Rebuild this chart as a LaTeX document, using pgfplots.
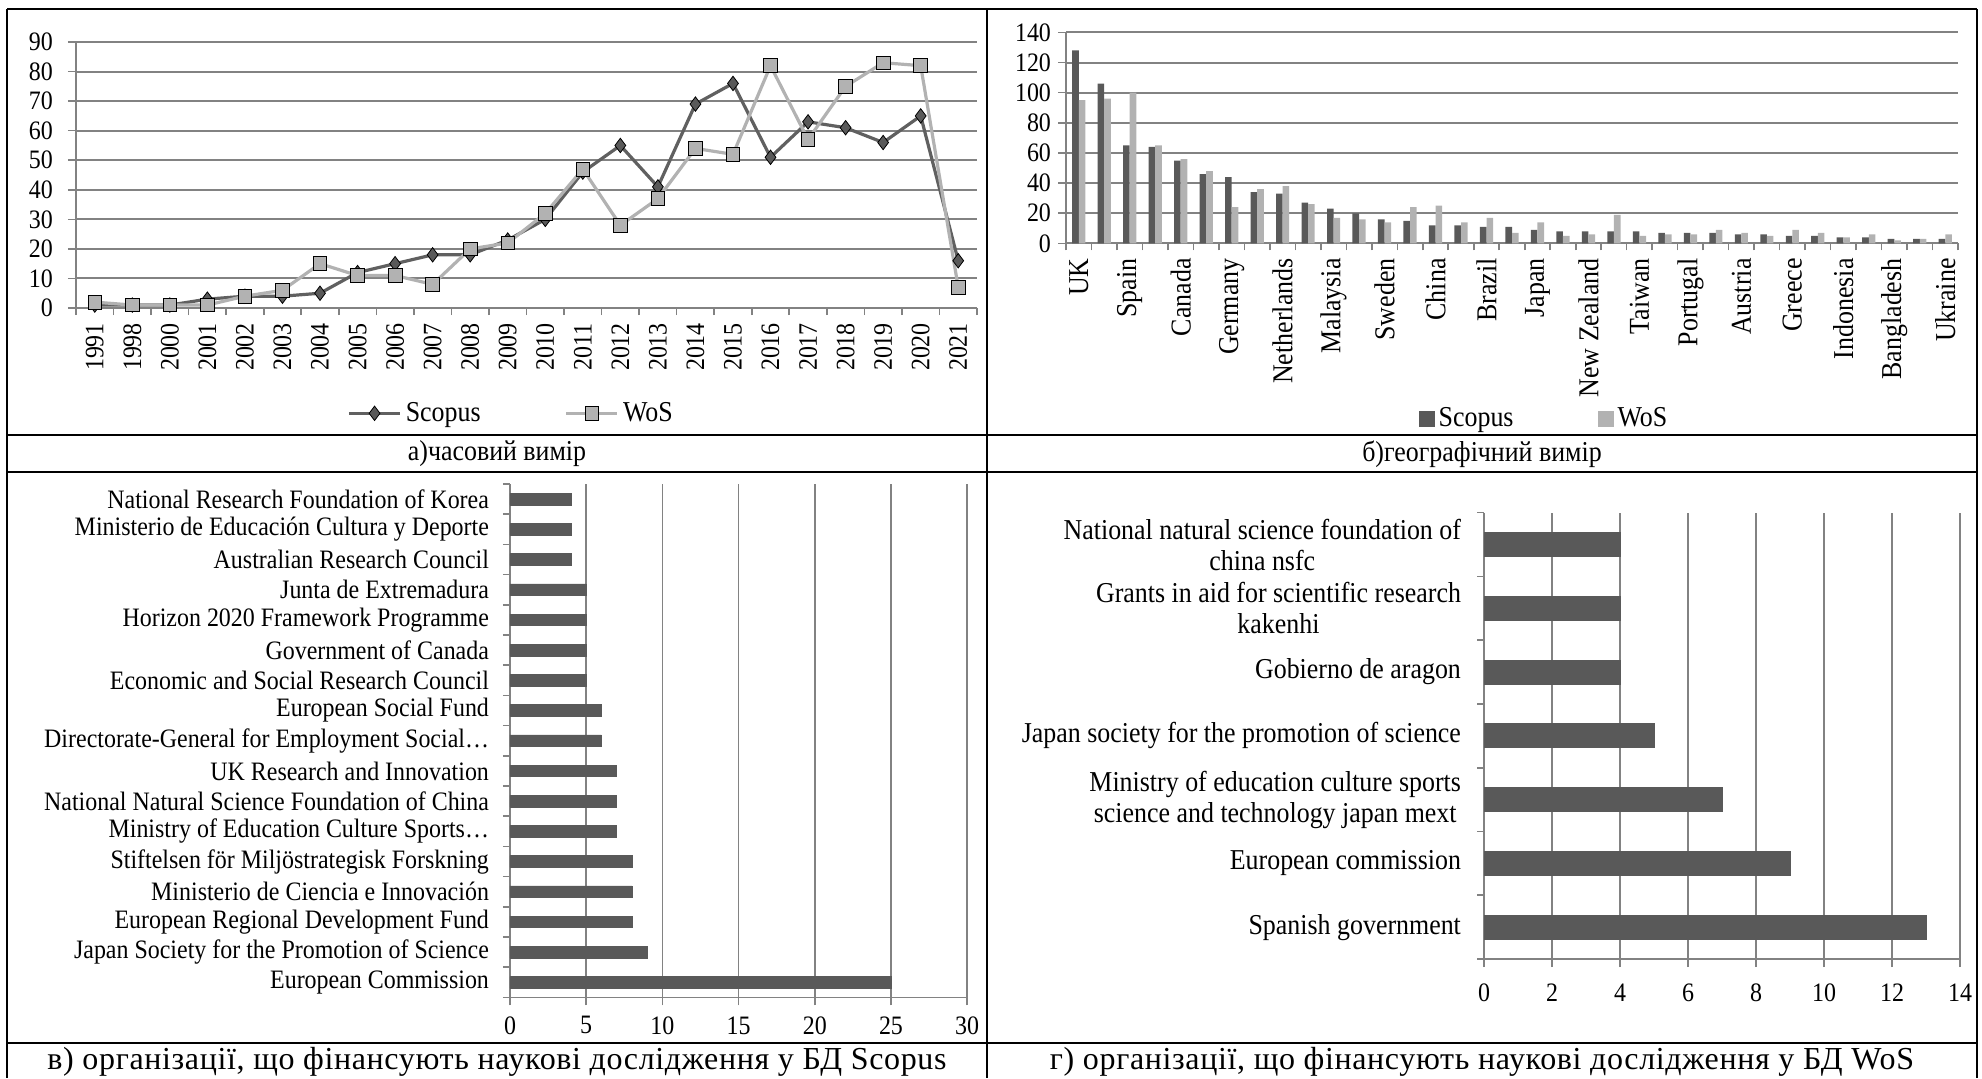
\documentclass[border=0pt]{standalone}
\usepackage{fontspec}
\setmainfont{Liberation Serif}[FakeStretch=0.9]
\newfontfamily\capfont{Liberation Serif}[LetterSpace=2]
\usepackage{pgfplots}
\pgfplotsset{compat=1.18}

\definecolor{scop}{RGB}{89,89,89}
\definecolor{scopline}{RGB}{96,96,96}
\definecolor{wos}{RGB}{178,178,178}
\definecolor{gridc}{RGB}{130,130,130}

\newcommand{\tf}{\fontsize{13.3}{15}\selectfont}
\newcommand{\lf}{\fontsize{14.4}{15.5}\selectfont}

\pgfplotsset{
  base/.style={
    scale only axis, anchor=south west,
    /pgf/number format/assume math mode=true,
    tick label style={font=\tf},
    axis lines*=left,
    axis line style={gridc, line width=0.8pt},
    tick align=outside,
    major tick length=4pt, minor tick length=3.5pt,
    tick style={gridc, line width=0.8pt},
  },
}

\begin{document}
\begin{tikzpicture}
\path[use as bounding box] (0,0) rectangle (991pt,-539pt);

% a) timeline
\begin{axis}[base,
  at={(38pt,-154pt)}, width=450.5pt, height=133pt,
  xmin=-0.5, xmax=23.5, ymin=0, ymax=90, ytick={0,10,...,90},
  yticklabel style={xshift=-4pt},
  xtick={0,...,23},
  xticklabels={1991,1998,2000,2001,2002,2003,2004,2005,2006,2007,2008,2009,2010,2011,2012,2013,2014,2015,2016,2017,2018,2019,2020,2021},
  xticklabel style={rotate=90, anchor=east},
  major x tick style={draw=none},
  minor xtick={-0.5,0.5,...,23.5},
  ymajorgrids, grid style={gridc, line width=1pt},
  legend style={at={(0.484,-0.396)}, anchor=center, draw=none, legend columns=2,
    font=\lf, /tikz/every even column/.append style={column sep=40pt}},
  legend image code/.code={\draw[mark repeat=2,mark phase=2,#1] plot coordinates {(0cm,0cm) (0.45cm,0cm) (0.9cm,0cm)};},
]
\addplot[scopline, line width=1.6pt, mark=diamond*, mark size=3.6pt,
  mark options={fill=scop, draw=black, line width=0.4pt}] coordinates {
  (0,1)(1,1)(2,1)(3,3)(4,4)(5,4)(6,5)(7,12)(8,15)(9,18)(10,18)(11,23)
  (12,30)(13,46)(14,55)(15,41)(16,69)(17,76)(18,51)(19,63)(20,61)(21,56)(22,65)(23,16)};
\addlegendentry{Scopus}
\addplot[wos, line width=1.6pt, mark=square*, mark size=3.4pt,
  mark options={fill=wos, draw=black, line width=0.4pt}] coordinates {
  (0,2)(1,1)(2,1)(3,1)(4,4)(5,6)(6,15)(7,11)(8,11)(9,8)(10,20)(11,22)
  (12,32)(13,47)(14,28)(15,37)(16,54)(17,52)(18,82)(19,57)(20,75)(21,83)(22,82)(23,7)};
\addlegendentry{WoS}
\end{axis}

% b) geography
\begin{axis}[base,
  at={(533pt,-121.7pt)}, width=446pt, height=105.5pt,
  ybar=0pt, bar width=3.3pt,
  xmin=0.5, xmax=35.5, ymin=0, ymax=140, ytick={0,20,...,140},
  xtick={1,3,...,35},
  xticklabels={UK,Spain,Canada,Germany,Netherlands,Malaysia,Sweden,China,Brazil,Japan,New Zealand,Taiwan,Portugal,Austria,Greece,Indonesia,Bangladesh,Ukraine},
  xticklabel style={rotate=90, anchor=east, font=\lf},
  major x tick style={draw=none},
  minor xtick={0.5,1.5,...,35.5},
  ymajorgrids, grid style={gridc, line width=1pt},
  legend style={at={(0.537,-0.83)}, anchor=center, draw=none, legend columns=2,
    font=\lf, /tikz/every even column/.append style={column sep=40pt}},
  legend image code/.code={\fill[#1] (0pt,-4pt) rectangle (8pt,4pt);},
]
\addplot[fill=scop, draw=none] coordinates {
  (1,128)(2,106)(3,65)(4,64)(5,55)(6,46)(7,44)(8,34)(9,33)(10,27)(11,23)(12,20)
  (13,16)(14,15)(15,12)(16,12)(17,11)(18,11)(19,9)(20,8)(21,8)(22,8)(23,8)(24,7)
  (25,7)(26,7)(27,6)(28,6)(29,5)(30,5)(31,4)(32,4)(33,3)(34,3)(35,3)};
\addlegendentry{Scopus}
\addplot[fill=wos, draw=none] coordinates {
  (1,95)(2,96)(3,100)(4,65)(5,56)(6,48)(7,24)(8,36)(9,38)(10,26)(11,17)(12,16)
  (13,14)(14,24)(15,25)(16,14)(17,17)(18,7)(19,14)(20,5)(21,6)(22,19)(23,5)(24,6)
  (25,6)(26,9)(27,7)(28,5)(29,9)(30,7)(31,4)(32,6)(33,2)(34,3)(35,6)};
\addlegendentry{WoS}
\end{axis}

% c) Scopus funders
\begin{axis}[base,
  at={(255pt,-498.7pt)}, width=228.6pt, height=256.7pt,
  xbar, bar width=5.8pt,
  xmin=0, xmax=30, xtick={0,5,...,30},
  xticklabel style={yshift=-2pt},
  ymin=0.5, ymax=17.5, ytick={1,...,17},
  yticklabel style={xshift=-3pt},
  yticklabels={European Commission,Japan Society for the Promotion of Science,European Regional Development Fund,Ministerio de Ciencia e Innovación,Stiftelsen för Miljöstrategisk Forskning,Ministry of Education Culture Sports…,National Natural Science Foundation of China,UK Research and Innovation,Directorate-General for Employment Social…,European Social Fund,Economic and Social Research Council,Government of Canada,Horizon 2020 Framework Programme,Junta de Extremadura,Australian Research Council,Ministerio de Educación Cultura y Deporte,National Research Foundation of Korea},
  major y tick style={draw=none},
  minor ytick={0.5,1.5,...,17.5},
  xmajorgrids, grid style={gridc, line width=0.8pt},
]
\addplot[fill=scop, draw=scop] coordinates {
  (25,1)(9,2)(8,3)(8,4)(8,5)(7,6)(7,7)(7,8)(6,9)(6,10)(5,11)(5,12)(5,13)(5,14)(4,15)(4,16)(4,17)};
\end{axis}

% d) WoS funders
\begin{axis}[base,
  at={(742pt,-479.5pt)}, width=238pt, height=223.2pt,
  xbar, bar width=12pt,
  xmin=0, xmax=14, xtick={0,2,...,14},
  xticklabel style={yshift=-5pt},
  ymin=0.5, ymax=7.5, ytick={1,...,7},
  yticklabels={Spanish government,European commission,{Ministry of education culture sports\\science and technology japan mext},Japan society for the promotion of science,Gobierno de aragon,{Grants in aid for scientific research\\kakenhi},{National natural science foundation of\\china nsfc}},
  yticklabel style={align=center, font=\lf, xshift=-4pt},
  major y tick style={draw=none},
  minor ytick={0.5,1.5,...,7.5},
  xmajorgrids, grid style={gridc, line width=0.8pt},
]
\addplot[fill=scop, draw=scop] coordinates {
  (13,1)(9,2)(7,3)(5,4)(4,5)(4,6)(4,7)};
\end{axis}

% table frame
\draw[line width=1pt] (3.5pt,-4.5pt) -- (988.5pt,-4.5pt);
\draw[line width=1pt] (3.5pt,-217.5pt) -- (988.5pt,-217.5pt);
\draw[line width=1pt] (3.5pt,-236pt) -- (988.5pt,-236pt);
\draw[line width=1pt] (3.5pt,-521.5pt) -- (988.5pt,-521.5pt);
\draw[line width=1pt] (3.5pt,-4.5pt) -- (3.5pt,-539pt);
\draw[line width=1pt] (493.5pt,-4.5pt) -- (493.5pt,-539pt);
\draw[line width=1pt] (988.5pt,-4.5pt) -- (988.5pt,-539pt);

\node[font=\lf] at (248.5pt,-227pt) {а)часовий вимір};
\node[font=\lf] at (741pt,-227pt) {б)географічний вимір};
\node[font={\capfont\fontsize{16}{17}\selectfont}] at (248.5pt,-531pt) {в) організації, що фінансують наукові дослідження у БД Scopus};
\node[font={\capfont\fontsize{16}{17}\selectfont}] at (741pt,-531pt) {г) організації, що фінансують наукові дослідження у БД WoS};
\end{tikzpicture}
\end{document}
